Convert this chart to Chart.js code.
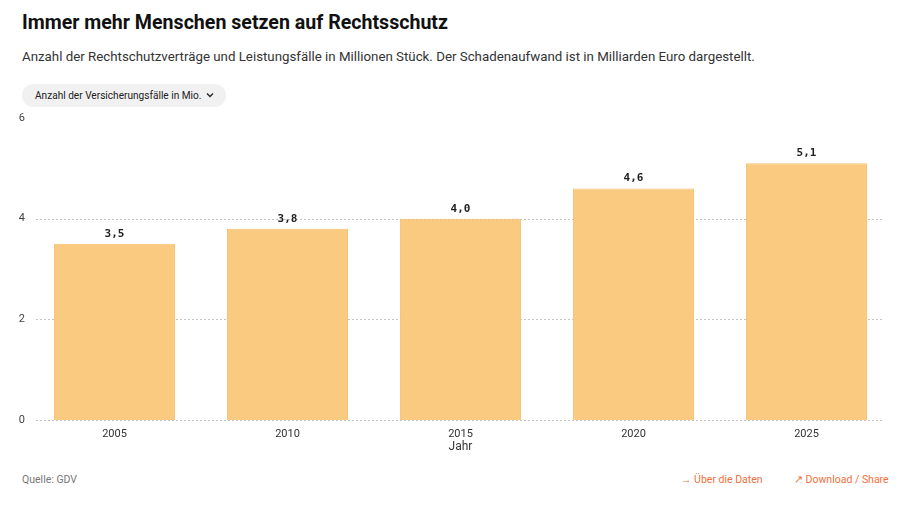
<!DOCTYPE html>
<html lang="de">
<head>
<meta charset="utf-8">
<script src="https://cdn.jsdelivr.net/npm/chart.js@4"></script>
<style>
  html, body { margin: 0; padding: 0; background: #fff; }
  body { width: 900px; height: 514px; position: relative; overflow: hidden; font-family: Roboto, 'Noto Sans', sans-serif; color: #111; }
  h1 { position: absolute; left: 22px; top: 11px; margin: 0; font-size: 19.6px; font-weight: 700; white-space: nowrap; }
  .sub { position: absolute; left: 22px; top: 49px; margin: 0; font-size: 13.3px; color: #333; white-space: nowrap; }
  .pill { position: absolute; left: 22px; top: 84px; height: 23px; width: 204px; border-radius: 12px; background: #f1f1f1;
          font-size: 10.1px; line-height: 23px; color: #222; box-sizing: border-box; padding-left: 13px; white-space: nowrap; }
  .pill svg { vertical-align: middle; margin-left: 5px; margin-top: -2px; }
  #wrap { position: absolute; left: 0; top: 100px; width: 900px; height: 362px; }
  .src { position: absolute; left: 22px; top: 473px; font-size: 10.5px; color: #777; }
  .lnk { position: absolute; top: 473px; font-size: 10.5px; color: #f0703c; white-space: nowrap; }
</style>
</head>
<body>
<h1>Immer mehr Menschen setzen auf Rechtsschutz</h1>
<p class="sub">Anzahl der Rechtschutzverträge und Leistungsfälle in Millionen Stück. Der Schadenaufwand ist in Milliarden Euro dargestellt.</p>
<div class="pill">Anzahl der Versicherungsfälle in Mio.<svg width="8" height="6" viewBox="0 0 8 6"><path d="M1 1.5 L4 4.5 L7 1.5" fill="none" stroke="#222" stroke-width="1.3"/></svg></div>
<div id="wrap"><canvas id="chart"></canvas></div>
<div class="src">Quelle: GDV</div>
<div class="lnk" style="left:681px">→ Über die Daten</div>
<div class="lnk" style="left:794px">↗ Download / Share</div>

<script>
// ── DATA ──
const years  = ['2005', '2010', '2015', '2020', '2025'];
const faelle = [3.5, 3.8, 4.0, 4.6, 5.1];
const yTicks = [0, 2, 4, 6];
const gridAt = [0, 2, 4];

const fmt = v => v.toFixed(1).replace('.', ',');

// ── DOTTED GRID, INSET FROM THE PLOT EDGES ──
const dottedGrid = {
  id: 'dottedGrid',
  beforeDatasetsDraw(chart) {
    const { ctx, chartArea, scales } = chart;
    ctx.save();
    ctx.strokeStyle = '#c2c2c2';
    ctx.lineWidth = 1;
    ctx.setLineDash([2, 2]);
    gridAt.forEach(v => {
      const y = Math.round(scales.y.getPixelForValue(v)) + 0.5;
      ctx.beginPath();
      ctx.moveTo(chartArea.left + 8, y);
      ctx.lineTo(chartArea.right - 9, y);
      ctx.stroke();
    });
    ctx.restore();
  }
};

// ── VALUE LABELS ABOVE BARS ──
const barLabels = {
  id: 'barLabels',
  afterDatasetsDraw(chart) {
    const { ctx } = chart;
    const meta = chart.getDatasetMeta(0);
    ctx.save();
    ctx.font = "bold 11px 'DejaVu Sans Mono', monospace";
    ctx.fillStyle = '#222';
    ctx.textAlign = 'center';
    ctx.textBaseline = 'middle';
    meta.data.forEach((bar, i) => {
      ctx.fillText(fmt(faelle[i]), bar.x, bar.y - 10);
    });
    ctx.restore();
  }
};

new Chart(document.getElementById('chart'), {
  type: 'bar',
  data: {
    labels: years,
    datasets: [{
      label: 'Anzahl der Versicherungsfälle in Mio.',
      data: faelle,
      backgroundColor: '#f9ca80',
      borderColor: '#f7c172',
      borderWidth: 1,
      barPercentage: 0.7,
      categoryPercentage: 1
    }]
  },
  options: {
    animation: false,
    responsive: true,
    maintainAspectRatio: false,
    layout: { padding: { top: 18, right: 7, left: 0, bottom: 0 } },
    plugins: {
      legend: { display: false },
      tooltip: { enabled: false }
    },
    scales: {
      x: {
        grid: { display: false, drawTicks: false },
        border: { display: false },
        ticks: { color: '#333', font: { family: 'Roboto', size: 11 }, padding: 8 },
        title: {
          display: true,
          text: 'Jahr',
          color: '#333',
          font: { family: 'Roboto', size: 12 },
          padding: { top: 0, bottom: 8 }
        },
        afterFit: s => { s.height = 42; }
      },
      y: {
        min: 0,
        max: 6,
        afterBuildTicks: s => { s.ticks = yTicks.map(v => ({ value: v })); },
        grid: { display: false, drawTicks: false },
        border: { display: false },
        ticks: { color: '#444', font: { family: 'Roboto', size: 11 }, padding: 3 },
        afterFit: s => { s.width = 28; }
      }
    }
  },
  plugins: [dottedGrid, barLabels]
});
</script>
</body>
</html>
